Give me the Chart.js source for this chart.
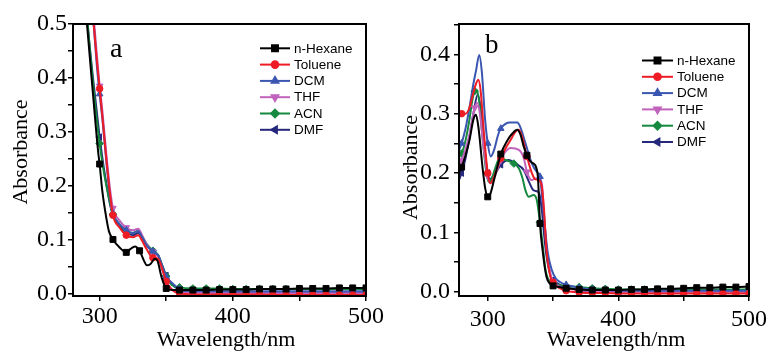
<!DOCTYPE html>
<html><head><meta charset="utf-8">
<script src="https://cdn.jsdelivr.net/npm/chart.js@4.4.0/dist/chart.umd.min.js"></script>
<style>
html,body{margin:0;padding:0;background:#fff;}
#wrap{position:relative;width:771px;height:352px;overflow:hidden;}
#ca{position:absolute;left:0;top:0;}
#cb{position:absolute;left:385px;top:0;}
</style></head><body>
<div id="wrap"><canvas id="ca" width="385" height="352"></canvas><canvas id="cb" width="386" height="352"></canvas></div>
<script>
// ---------- shared series info ----------
const names = ['n-Hexane','Toluene','DCM','THF','ACN','DMF'];
const lineColors = ['#000000','#ee1c25','#3b56b0','#c163bd','#15893f','#26287c'];
const markerStyles = ['rect','circle','triangle','triangle','rectRot','triangle'];
const markerRotations = [0,0,0,180,0,-90];
const markerSizes = [4.2,3.3,3.8,3.8,3.8,3.8];

// ---------- tick values ----------
const xTickValues = [300,350,400,450,500];
const yTickValuesA = [0,0.05,0.1,0.15,0.2,0.25,0.3,0.35,0.4,0.45,0.5];
const yTickValuesB = [0,0.05,0.1,0.15,0.2,0.25,0.3,0.35,0.4,0.45];

// ---------- panel a data [wavelength nm, absorbance] ----------
const aHexane = [[289,0.55],[290.5,0.5],[295,0.37],[299,0.26],[300,0.24],[302,0.19],[305,0.14],[307,0.115],[310,0.10],[315,0.085],[320,0.076],[323,0.082],[326.5,0.087],[330,0.079],[333,0.062],[335.5,0.052],[338,0.054],[341.5,0.064],[343.5,0.06],[346.5,0.03],[350,0.009],[355,0.006],[360,0.006],[370,0.006],[380,0.006],[390,0.007],[400,0.007],[410,0.007],[420,0.008],[430,0.008],[440,0.008],[450,0.009],[460,0.009],[470,0.009],[480,0.01],[490,0.01],[500,0.01]];
const aToluene = [[294,0.55],[295.5,0.5],[298,0.43],[300,0.38],[302,0.33],[305,0.25],[308,0.18],[310,0.145],[315,0.122],[320,0.108],[325,0.104],[329,0.108],[332,0.097],[335,0.083],[340,0.066],[344,0.064],[347,0.045],[350,0.022],[354,0.007],[360,0.0],[370,-0.002],[380,-0.002],[390,-0.002],[400,-0.002],[410,-0.002],[420,-0.002],[430,-0.003],[440,-0.003],[450,-0.003],[460,-0.003],[470,-0.003],[480,-0.003],[490,-0.003],[500,-0.003]];
const aDCM = [[294,0.55],[295.5,0.5],[298,0.42],[300,0.37],[302,0.325],[305,0.245],[308,0.175],[310,0.148],[315,0.128],[320,0.117],[325,0.112],[329,0.115],[332,0.104],[335,0.09],[340,0.078],[344,0.07],[347,0.05],[350,0.031],[354,0.02],[360,0.008],[370,0.004],[380,0.004],[390,0.004],[400,0.004],[410,0.004],[420,0.004],[430,0.004],[440,0.004],[450,0.004],[460,0.004],[470,0.004],[480,0.004],[490,0.004],[500,0.004]];
const aTHF = [[294.5,0.55],[296,0.5],[298,0.44],[300,0.385],[302,0.34],[305,0.26],[308,0.19],[310,0.158],[315,0.135],[320,0.122],[325,0.117],[329,0.12],[332,0.107],[335,0.092],[340,0.077],[344,0.068],[347,0.045],[350,0.022],[354,0.008],[360,0.002],[370,0.001],[380,0.001],[390,0.001],[400,0.0],[410,0.0],[420,0.0],[430,0.0],[440,0.0],[450,0.0],[460,0.0],[470,0.0],[480,0.0],[490,0.0],[500,0.0]];
const aACN = [[289.5,0.55],[291,0.5],[295,0.39],[300,0.278],[303,0.228],[306,0.188],[308,0.165],[310,0.147],[315,0.128],[320,0.116],[325,0.112],[329,0.116],[332,0.106],[335,0.093],[340,0.079],[344,0.071],[347,0.05],[350,0.032],[354,0.016],[360,0.011],[370,0.009],[380,0.009],[390,0.009],[400,0.008],[410,0.008],[420,0.008],[430,0.008],[440,0.008],[450,0.008],[460,0.008],[470,0.008],[480,0.008],[490,0.008],[500,0.008]];
const aDMF = [[289.5,0.55],[291,0.5],[295,0.4],[300,0.29],[303,0.235],[306,0.19],[308,0.163],[310,0.145],[315,0.125],[320,0.113],[325,0.108],[329,0.112],[332,0.103],[335,0.09],[340,0.077],[344,0.07],[347,0.052],[350,0.033],[354,0.018],[360,0.006],[370,0.002],[380,0.002],[390,0.001],[400,0.001],[410,0.001],[420,0.001],[430,0.001],[440,0.001],[450,0.001],[460,0.001],[470,0.001],[480,0.001],[490,0.001],[500,0.001]];

// ---------- panel b data [wavelength nm, absorbance] ----------
const bHexane = [[278,0.2],[280,0.21],[283,0.23],[286,0.255],[289,0.29],[291,0.298],[293,0.275],[296,0.21],[298,0.175],[300,0.16],[302,0.165],[305,0.19],[310,0.232],[315,0.255],[319,0.267],[322.5,0.273],[325,0.265],[327.5,0.245],[330,0.23],[332.5,0.22],[335,0.216],[337,0.21],[338.5,0.19],[340,0.115],[342,0.07],[345,0.025],[348,0.013],[350,0.01],[355,0.008],[360,0.006],[370,0.004],[380,0.003],[390,0.003],[400,0.003],[410,0.004],[420,0.004],[430,0.005],[440,0.005],[450,0.006],[460,0.007],[470,0.007],[480,0.008],[490,0.008],[500,0.009]];
const bToluene = [[278,0.3],[280,0.3],[283,0.3],[286,0.31],[289,0.335],[291,0.35],[292.8,0.357],[294.5,0.34],[297,0.27],[300,0.2],[302,0.183],[305,0.195],[310,0.225],[314,0.243],[317.6,0.256],[321.3,0.27],[323.8,0.273],[326.3,0.261],[330,0.228],[333.8,0.2],[336,0.19],[338.9,0.188],[341.4,0.177],[343,0.14],[345,0.07],[348,0.025],[350,0.016],[355,0.006],[360,0.002],[370,-0.001],[380,-0.002],[390,-0.002],[400,-0.003],[410,-0.003],[420,-0.003],[430,-0.003],[440,-0.003],[450,-0.003],[460,-0.003],[470,-0.003],[480,-0.003],[490,-0.003],[500,-0.003]];
const bDCM = [[278,0.238],[280,0.25],[283,0.275],[286,0.31],[289,0.35],[291,0.372],[293.5,0.399],[295.5,0.37],[298,0.29],[300,0.25],[302.3,0.228],[305,0.24],[308,0.265],[310,0.275],[313,0.282],[316.3,0.285],[322.6,0.285],[325,0.277],[328.9,0.25],[333.8,0.216],[337.6,0.202],[340,0.194],[342,0.15],[344,0.104],[346,0.065],[349,0.037],[352,0.023],[355,0.017],[360,0.012],[370,0.007],[380,0.004],[390,0.003],[400,0.002],[410,0.002],[420,0.002],[430,0.002],[440,0.002],[450,0.002],[460,0.002],[470,0.002],[480,0.002],[490,0.002],[500,0.002]];
const bTHF = [[278,0.215],[280,0.222],[283,0.24],[286,0.265],[289,0.3],[290,0.31],[292,0.318],[294,0.3],[297,0.24],[300,0.195],[302,0.183],[305,0.192],[310,0.222],[312.6,0.233],[317.6,0.242],[323.8,0.239],[327.6,0.225],[330,0.202],[333.8,0.188],[336.3,0.191],[339,0.19],[341.4,0.183],[343,0.135],[345,0.075],[348,0.03],[350,0.018],[355,0.009],[360,0.006],[370,0.003],[380,0.001],[390,0.0],[400,0.0],[410,0.0],[420,0.0],[430,0.0],[440,0.0],[450,0.0],[460,0.0],[470,0.0],[480,0.0],[490,0.0],[500,0.0]];
const bACN = [[278,0.228],[280,0.233],[283,0.255],[286,0.29],[288,0.32],[290,0.338],[291.5,0.34],[293.5,0.32],[296,0.26],[299,0.2],[301,0.185],[303,0.19],[306,0.21],[308.8,0.224],[313.8,0.222],[320,0.216],[323.8,0.208],[326.5,0.192],[329,0.17],[331.4,0.16],[335,0.163],[337.5,0.155],[340,0.117],[342,0.08],[344,0.04],[347,0.018],[350,0.014],[355,0.011],[360,0.01],[370,0.008],[380,0.006],[390,0.005],[400,0.004],[410,0.004],[420,0.004],[430,0.004],[440,0.004],[450,0.004],[460,0.004],[470,0.004],[480,0.004],[490,0.004],[500,0.004]];
const bDMF = [[278,0.188],[280,0.2],[283,0.225],[286,0.26],[289,0.3],[292.3,0.332],[294.5,0.31],[297,0.25],[300,0.2],[302,0.19],[305,0.197],[310,0.214],[316.3,0.222],[321.3,0.216],[327.6,0.205],[331.4,0.186],[335,0.171],[338,0.169],[339.5,0.165],[341.4,0.138],[343,0.1],[345,0.06],[348,0.028],[350,0.02],[355,0.012],[360,0.008],[370,0.003],[380,0.001],[390,0.001],[400,0.001],[410,0.001],[420,0.001],[430,0.001],[440,0.001],[450,0.001],[460,0.001],[470,0.001],[480,0.001],[490,0.001],[500,0.001]];

const panelAData = [aHexane,aToluene,aDCM,aTHF,aACN,aDMF];
const panelBData = [bHexane,bToluene,bDCM,bTHF,bACN,bDMF];

const serif = '"Liberation Serif","Times New Roman",serif';
const sans = '"Liberation Sans",Arial,sans-serif';

function drawMarker(ctx, style, rot, r, x, y) {
  if (Chart.helpers && Chart.helpers.drawPoint) {
    Chart.helpers.drawPoint(ctx, {pointStyle: style, rotation: rot, radius: r, borderWidth: 1}, x, y);
  }
}

const decor = {
  id: 'decor',
  afterDatasetsDraw(chart, args, o) {
    const ctx = chart.ctx, ca = chart.chartArea;
    ctx.save();
    ctx.strokeStyle = '#000'; ctx.lineWidth = 2;
    ctx.strokeRect(ca.left, ca.top, ca.right - ca.left, ca.bottom - ca.top);
    ctx.fillStyle = '#000';
    ctx.font = o.letterSize + 'px ' + serif;
    ctx.textAlign = 'left'; ctx.textBaseline = 'alphabetic';
    ctx.fillText(o.letter, o.letterX, o.letterY);
    ctx.font = '13.5px ' + sans;
    ctx.textBaseline = 'middle';
    chart.data.datasets.forEach((ds, i) => {
      const y = o.legY + i * o.legDy;
      ctx.strokeStyle = ds.borderColor; ctx.lineWidth = 2;
      ctx.beginPath(); ctx.moveTo(o.legX1, y); ctx.lineTo(o.legX2, y); ctx.stroke();
      ctx.fillStyle = ds.borderColor;
      drawMarker(ctx, ds.pointStyle, ds.pointRotation, markerSizes[i], (o.legX1 + o.legX2) / 2, y);
      ctx.fillStyle = '#000';
      ctx.fillText(ds.label, o.legTextX, y + 0.5);
    });
    ctx.font = '22px ' + serif;
    ctx.textAlign = 'center'; ctx.textBaseline = 'alphabetic';
    ctx.fillText(o.xTitle, o.xTitleX, o.xTitleY);
    ctx.translate(o.yTitleX, o.yTitleY); ctx.rotate(-Math.PI / 2);
    ctx.fillText(o.yTitle, 0, 0);
    ctx.restore();
  }
};

function buildChart(id, seriesData, cfg) {
  const datasets = seriesData.map((d, i) => ({
    label: names[i],
    data: d.map(p => ({x: p[0], y: p[1]})),
    borderColor: lineColors[i],
    backgroundColor: lineColors[i],
    pointBackgroundColor: lineColors[i],
    pointBorderColor: lineColors[i],
    pointStyle: markerStyles[i],
    pointRotation: markerRotations[i],
    pointBorderWidth: 1,
    pointRadius: ctx => (ctx.raw && ctx.raw.x % 10 === 0) ? markerSizes[i] : 0,
    pointHoverRadius: 0,
    borderWidth: 2,
    cubicInterpolationMode: 'monotone',
    fill: false
  }));
  return new Chart(document.getElementById(id), {
    type: 'line',
    data: {datasets},
    plugins: [decor],
    options: {
      responsive: false, animation: false, devicePixelRatio: 1,
      layout: {padding: {left: 0, top: 24, right: cfg.padRight, bottom: 0}},
      plugins: {legend: {display: false}, tooltip: {enabled: false}, decor: cfg.decor},
      scales: {
        x: {
          type: 'linear', min: cfg.xMin, max: 500,
          afterBuildTicks: s => { s.ticks = xTickValues.map(v => ({value: v})); },
          afterFit: s => { s.height = 56; },
          ticks: {autoSkip: false, maxRotation: 0, color: '#000', padding: cfg.xPad,
                  font: {family: serif, size: 24},
                  callback: v => (v % 100 === 0 ? String(v) : '')},
          grid: {drawOnChartArea: false, drawTicks: true, tickLength: 5, color: '#000', lineWidth: 1.5},
          border: {display: true, color: '#000', width: 2}
        },
        y: {
          type: 'linear', min: cfg.yMin, max: cfg.yMax,
          afterBuildTicks: s => { s.ticks = cfg.yTicks.map(v => ({value: v})); },
          afterFit: s => { s.width = cfg.left; },
          ticks: {autoSkip: false, color: '#000', padding: cfg.yPad,
                  font: {family: serif, size: 24},
                  callback: v => (Math.abs(v * 10 - Math.round(v * 10)) < 1e-6 ? v.toFixed(1) : '')},
          grid: {drawOnChartArea: false, drawTicks: true, tickLength: 5, color: '#000', lineWidth: 1.5},
          border: {display: true, color: '#000', width: 2}
        }
      }
    }
  });
}

buildChart('ca', panelAData, {
  xMin: 280, yMin: -0.005, yMax: 0.5, yTicks: yTickValuesA, left: 73, padRight: 19, xPad: 1, yPad: 1,
  decor: {letter: 'a', letterSize: 28, letterX: 110, letterY: 57,
          legX1: 260, legX2: 290, legTextX: 294, legY: 48.3, legDy: 16.3,
          xTitle: 'Wavelength/nm', xTitleX: 226, xTitleY: 346,
          yTitle: 'Absorbance', yTitleX: 27, yTitleY: 152}
});
buildChart('cb', panelBData, {
  xMin: 278, yMin: -0.007, yMax: 0.451, yTicks: yTickValuesB, left: 74, padRight: 17, xPad: 4, yPad: 4,
  decor: {letter: 'b', letterSize: 27, letterX: 100, letterY: 53,
          legX1: 257, legX2: 288, legTextX: 292, legY: 60.5, legDy: 16.3,
          xTitle: 'Wavelength/nm', xTitleX: 231, xTitleY: 346,
          yTitle: 'Absorbance', yTitleX: 31.5, yTitleY: 167.5}
});
</script>
</body></html>
